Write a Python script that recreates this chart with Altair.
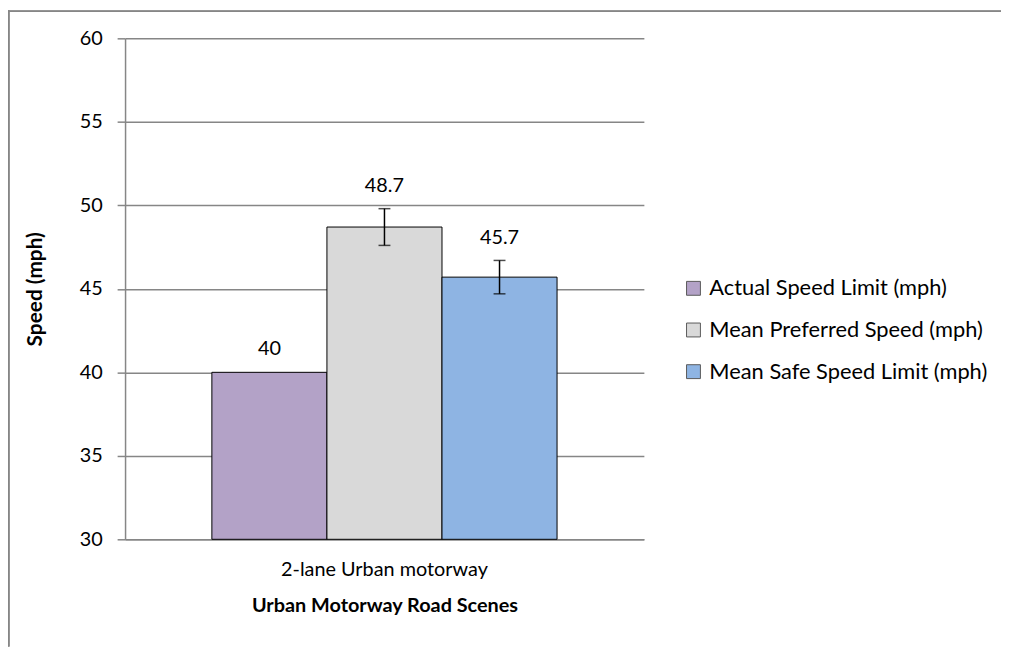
import altair as alt
import pandas as pd

category = ["2-lane Urban motorway"]
series = ["Actual Speed Limit (mph)", "Mean Preferred Speed (mph)", "Mean Safe Speed Limit (mph)"]
values = [40, 48.7, 45.7]
errors = [0, 1.1, 1.0]
value_labels = ["40", "48.7", "45.7"]
colors = ["#B3A2C7", "#D9D9D9", "#8EB4E3"]

df = pd.DataFrame({
    "scene": category * len(series),
    "series": series,
    "value": values,
    "err": errors,
    "label": value_labels,
})

FONT = "Lato"
W, H = 523, 505
PAD_L, PAD_T = 118, 28
TOTAL_W, TOTAL_H = 1001, 641

x = alt.X("scene:N", title="Urban Motorway Road Scenes",
          scale=alt.Scale(paddingOuter=0.2515, paddingInner=0),
          axis=alt.Axis(labelAngle=0, ticks=False, labelPadding=20, labelLimit=0,
                        titlePadding=17, titleFontSize=20,
                        domainColor="#868686", domainWidth=1.5))
xoff = alt.XOffset("series:N", sort=series, scale=alt.Scale(paddingInner=0, paddingOuter=0))
yscale = alt.Scale(domain=[30, 60], zero=False, nice=False)

base = alt.Chart(df)

bars = base.mark_bar(stroke="#000000", strokeWidth=1).encode(
    x=x,
    xOffset=xoff,
    y=alt.Y("value:Q", title="Speed (mph)", scale=yscale,
            axis=alt.Axis(values=[30, 35, 40, 45, 50, 55, 60], tickSize=8,
                          tickColor="#868686", tickWidth=1.5,
                          labelPadding=15, titlePadding=34, titleFontSize=21,
                          gridColor="#868686", gridWidth=1.5,
                          domainColor="#868686", domainWidth=1.5)),
    y2=alt.datum(30),
    color=alt.Color("series:N", sort=series,
                    scale=alt.Scale(domain=series, range=colors),
                    legend=alt.Legend(title=None, orient="none", legendX=562, legendY=241,
                                      symbolType="square", symbolSize=196,
                                      symbolStrokeColor="#595959", symbolStrokeWidth=1,
                                      labelFontSize=22, labelFont=FONT, labelColor="#000000",
                                      labelLimit=0, rowPadding=20, labelOffset=5)),
)

err_df = base.transform_filter("datum.err > 0").transform_calculate(
    lo="datum.value - datum.err", hi="datum.value + datum.err")

err_rule = err_df.mark_rule(color="#000000", strokeWidth=1.5).encode(
    x=x, xOffset=xoff,
    y=alt.Y("lo:Q", scale=yscale), y2="hi:Q")

cap_hi = err_df.mark_tick(color="#000000", thickness=1.5, size=12, orient="horizontal").encode(
    x=x, xOffset=xoff, y=alt.Y("hi:Q", scale=yscale))
cap_lo = err_df.mark_tick(color="#000000", thickness=1.5, size=12, orient="horizontal").encode(
    x=x, xOffset=xoff, y=alt.Y("lo:Q", scale=yscale))

labels = base.transform_calculate(top="datum.value + datum.err").mark_text(
    font=FONT, fontSize=20, color="#000000", baseline="middle", dy=-23).encode(
    x=x, xOffset=xoff, y=alt.Y("top:Q", scale=yscale), text="label:N")

border_left = base.mark_rule(color="#868686", strokeWidth=1.5).encode(
    x=alt.value(-PAD_L + 0.75), y=alt.value(-PAD_T), y2=alt.value(TOTAL_H - PAD_T))
border_top = base.mark_rule(color="#868686", strokeWidth=1.5).encode(
    x=alt.value(-PAD_L), x2=alt.value(TOTAL_W - PAD_L), y=alt.value(-PAD_T + 0.75))

chart = alt.layer(bars, err_rule, cap_hi, cap_lo, labels, border_left, border_top).properties(
    width=W, height=H,
    autosize=alt.AutoSizeParams(type="none"),
    padding={"left": PAD_L, "top": PAD_T, "right": TOTAL_W - PAD_L - W, "bottom": TOTAL_H - PAD_T - H},
    background="white",
).configure_view(stroke=None).configure_axis(
    labelFont=FONT, labelFontSize=20, labelColor="#000000",
    titleFont=FONT, titleFontWeight="bold", titleColor="#000000",
    grid=True,
).configure_axisX(grid=False)

chart.save("out.html", embed_options={"renderer": "svg", "actions": False})
